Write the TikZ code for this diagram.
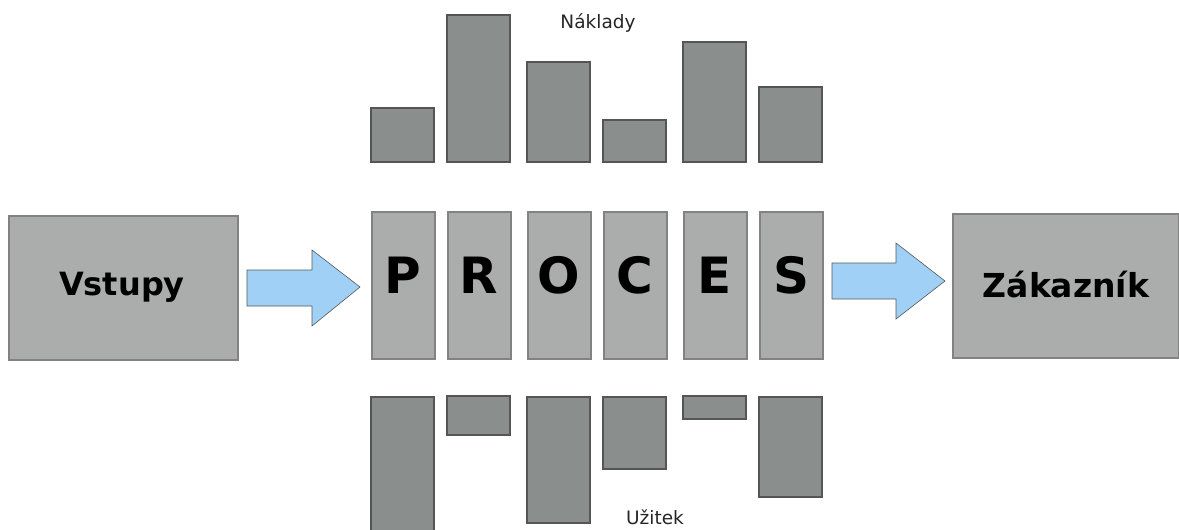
\documentclass[tikz,border=0pt]{standalone}
\usepackage{fontspec}
\setmainfont{DejaVu Sans}
\definecolor{flowblue}{RGB}{160,208,245}
\definecolor{boxgray}{RGB}{170,173,172}
\definecolor{bargray}{RGB}{138,142,140}
\definecolor{barline}{RGB}{85,85,85}
\definecolor{boxline}{RGB}{130,130,130}
\begin{document}
\begin{tikzpicture}[x=1pt,y=-1pt,
  bigbox/.style={draw=boxline,line width=1.5pt,fill=boxgray,inner sep=0pt,anchor=north west},
  colbox/.style={draw=boxline,line width=1.5pt,fill=boxgray,inner sep=0pt,anchor=north west,minimum width=63pt,minimum height=147pt},
  bar/.style={draw=barline,line width=2.8pt,fill=bargray,inner sep=0pt},
  flow/.style={draw=black!65,line width=0.6pt,fill=flowblue},
  bigtxt/.style={font=\fontsize{32}{32}\selectfont\bfseries,anchor=base},
  lettxt/.style={font=\fontsize{50}{50}\selectfont\bfseries,anchor=base},
  lbltxt/.style={font=\fontsize{18.5}{18.5}\selectfont,text=black!85,anchor=base}]
\useasboundingbox (0,0) rectangle (1179,530);
\fill[white] (0,0) rectangle (1179,530);
% side boxes
\node[bigbox,minimum width=229pt,minimum height=144pt] (vst) at (8,215) {};
\node[bigtxt] (vsttxt) at (122,295) {Vstupy};
\node[bigbox,minimum width=226pt,minimum height=144pt] (zak) at (952,213) {};
\node[bigtxt,font=\fontsize{33}{33}\selectfont\bfseries] (zaktxt) at (1066,297) {Zákazník};
% process columns
\foreach \n/\x/\l in {1/371/P,2/447/R,3/527/O,4/603/C,5/683/E,6/759/S}{
  \node[colbox] (c\n) at (\x,211) {};
  \node[lettxt] (l\n) at (\x+32,293) {\l};
}
% flow arrows
\coordinate (a1) at (247,270);
\draw[flow] (a1) -- (312,270) -- (312,250) -- (360,287) -- (312,326) -- (312,306) -- (247,306) -- cycle;
\coordinate (a2) at (832,263);
\draw[flow] (a2) -- (896,263) -- (896,243) -- (945,281) -- (896,319) -- (896,299) -- (832,299) -- cycle;
% cost bars
\foreach \n/\x/\t in {1/371/108,2/447/15,3/527/62,4/603/120,5/683/42,6/759/87}{
  \draw[bar] (\x,\t) rectangle (\x+63,162);
}
% benefit bars
\foreach \n/\x/\t/\b in {1/371/397/540,2/447/396/435,3/527/397/523,4/603/397/469,5/683/396/419,6/759/397/497}{
  \draw[bar] (\x,\t) rectangle (\x+63,\b);
}
\node[lbltxt] (nak) at (598,28) {Náklady};
\node[lbltxt] (uzi) at (655,524) {Užitek};
\end{tikzpicture}
\end{document}
